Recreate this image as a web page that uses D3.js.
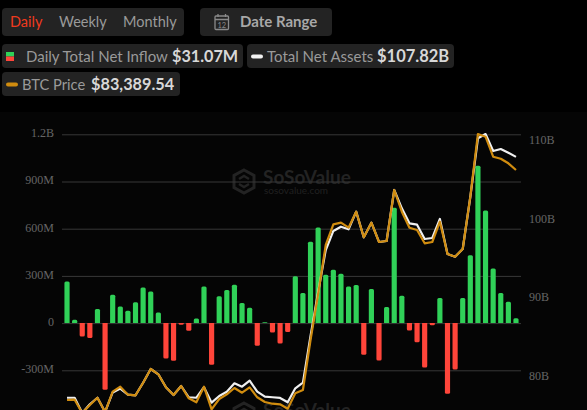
<!DOCTYPE html>
<html><head><meta charset="utf-8">
<script src="https://cdn.jsdelivr.net/npm/d3@7/dist/d3.min.js"></script>
<style>
html,body{margin:0;padding:0;background:#000;overflow:hidden}
svg{display:block}
</style></head><body>
<svg id="c" width="587" height="410"></svg>
<script>
const inflow=[265,21,-85,-95,89,-424,180,106,78,133,227,201,68,-225,-239,-11,-49,30,233,-265,170,210,244,127,97,-144,6,-59,-129,-57,297,191,517,608,307,339,314,233,242,-201,216,-237,102,733,174,-47,-121,-282,-13,159,-449,-295,159,432,1000,716,347,191,136,31.07];
const assets=[77.2,77.2,75.26,76.37,77.2,75.39,77.87,78.37,77.59,77.51,79.11,80.85,80.18,78.53,77.55,78.69,77.26,77.2,78.53,76.57,77.42,77.97,79.04,78.6,79.37,77.97,77.33,77.26,77.17,76.62,78.4,79.11,85.05,90.64,95.98,98.4,98.94,98.61,100.85,97.59,99.45,97,97.12,103.61,101.28,99.37,99.2,97.38,97.5,99.92,95.47,95.13,96.11,102.72,110.18,110.72,108.56,108.82,108.35,107.82];
const price=[54640,54676,53014,54014,54927,53139,55677,56302,55302,55227,56802,58514,57852,56227,55264,56389,54852,54352,56302,53477,54764,55352,56139,55552,56227,54977,54389,54177,54102,53552,55477,55889,62139,67889,74014,76602,76802,76177,78177,74977,76802,74389,74514,80889,78177,76177,75889,74227,74389,76927,72889,72552,73514,80052,87889,87551,85051,84801,84226,83389.54];
const leftTicks=[-300,0,300,600,900,1200];
const leftLabels=["-300M","0","300M","600M","900M","1.2B"];
const rightTicks=[80,90,100,110];
const rightLabels=["80B","90B","100B","110B"];
const periods=["Daily","Weekly","Monthly"];

const svg=d3.select("#c");
const sans="Lato,'Open Sans',sans-serif", serif="'Liberation Serif',serif";
const X0=62,X1=521;
const x=d3.scaleBand().domain(d3.range(inflow.length)).range([X0,X1]).padding(0.32);
const yL=d3.scaleLinear().domain([-300,1200]).range([370.3,134.3]);
const yR=d3.scaleLinear().domain([80,110]).range([375.7,139.7]);
const yP=d3.scaleLinear().domain([57764.54,83389.54]).range([375,170]);
const cx=i=>x(i)+x.bandwidth()/2;

svg.append("rect").attr("y",112).attr("width",587).attr("height",298).attr("fill","#050505");

// header controls
function chip(a,b,w,h){svg.append("rect").attr("x",a).attr("y",b).attr("width",w).attr("height",h).attr("rx",4).attr("fill","#232323");}
function txt(s,a,b,size,col,weight){return svg.append("text").attr("x",a).attr("y",b).attr("font-family",sans).attr("font-size",size).attr("font-weight",weight||400).attr("fill",col).text(s);}
chip(2,8,182,28);chip(200,8,132,28);
const px=[10,59,123];
periods.forEach((p,i)=>txt(p,px[i],27,14.5,i==0?"#f03a1e":"#9a9a9a"));
// calendar icon
const ic=svg.append("g").attr("fill","none").attr("stroke","#8a8a8a").attr("stroke-width",1.3);
ic.append("rect").attr("x",215).attr("y",16).attr("width",13.5).attr("height",13.5).attr("rx",1);
ic.append("path").attr("d","M215 19.5H228.5M218 14V17M225.5 14V17");
svg.append("text").attr("x",221.8).attr("y",28).attr("text-anchor","middle").attr("font-family",sans).attr("font-size",7.5).attr("fill","#8a8a8a").text("12");
txt("Date Range",240,27,15,"#a8a8a8",700);

chip(2,44,241,24);chip(247,44,207,24);chip(2,72,178,24);
svg.append("rect").attr("x",6).attr("y",52).attr("width",8).attr("height",4.5).attr("fill","#30d158");
svg.append("rect").attr("x",6).attr("y",56.5).attr("width",8).attr("height",4.5).attr("fill","#ff453a");
txt("Daily Total Net Inflow",26,61.5,15,"#9a9a9a");
txt("$31.07M",172,62,16.2,"#d8d8d8",700);
svg.append("rect").attr("x",251).attr("y",54.5).attr("width",12).attr("height",4).attr("rx",2).attr("fill","#f2f2f2");
txt("Total Net Assets",267,61.5,15,"#9a9a9a");
txt("$107.82B",377,62,16.5,"#d8d8d8",700);
svg.append("rect").attr("x",6).attr("y",82.5).attr("width",12).attr("height",4).attr("rx",2).attr("fill","#d08c0f");
txt("BTC Price",22,89.5,14.7,"#9a9a9a");
txt("$83,389.54",91,90,16.3,"#d8d8d8",700);

// watermarks
function watermark(dy){
  const g=svg.append("g").attr("transform",`translate(0,${dy})`);
  g.append("path").attr("d","M244 170L254 175.5V187.5L244 193L234 187.5V175.5Z").attr("fill","none").attr("stroke","#232323").attr("stroke-width",3);
  g.append("path").attr("d","M239 179L244 176L249 179M249 184L244 187L239 184").attr("fill","none").attr("stroke","#232323").attr("stroke-width",2.5);
  g.append("text").attr("x",263).attr("y",184).attr("font-family",sans).attr("font-weight",700).attr("font-size",19).attr("fill","#232323").text("SoSoValue");
  g.append("text").attr("x",264).attr("y",194).attr("font-family",sans).attr("font-size",10).attr("fill","#202020").text("sosovalue.com");
}
watermark(0);watermark(233);

// axes
const axL=svg.append("g").attr("transform",`translate(${X0},0)`)
 .call(d3.axisLeft(yL).tickValues(leftTicks).tickSize(-(X1-X0)).tickPadding(8).tickFormat((d,i)=>leftLabels[i]));
axL.select(".domain").remove();
axL.selectAll("line").attr("stroke","#383838");
axL.selectAll("text").attr("font-family",serif).attr("font-size",12).attr("fill","#666").attr("dy","0.2em");
const axR=svg.append("g").attr("transform",`translate(${X1},0)`)
 .call(d3.axisRight(yR).tickValues(rightTicks).tickSize(0).tickPadding(8).tickFormat((d,i)=>rightLabels[i]));
axR.select(".domain").remove();
axR.selectAll("text").attr("font-family",serif).attr("font-size",12).attr("fill","#666");

// bars
svg.append("g").selectAll("path").data(inflow).join("path")
 .attr("d",(d,i)=>{
   const a=x(i),w=x.bandwidth(),y0=yL(0),y1=yL(d),r=Math.min(1.5,Math.abs(y1-y0)),s=d>=0?1:-1;
   return `M${a} ${y0}V${y1+s*r}Q${a} ${y1} ${a+r} ${y1}H${a+w-r}Q${a+w} ${y1} ${a+w} ${y1+s*r}V${y0}Z`;
 })
 .attr("fill",d=>d>=0?"#30d158":"#ff453a");

// lines
const lineR=d3.line().x((d,i)=>cx(i)).y(d=>yR(d));
const lineP=d3.line().x((d,i)=>cx(i)).y(d=>yP(d));
svg.append("path").attr("d",lineR(assets)).attr("fill","none").attr("stroke","#f0f0f0").attr("stroke-width",2.2).attr("stroke-linejoin","round");
svg.append("path").attr("d",lineP(price)).attr("fill","none").attr("stroke","#d08c0f").attr("stroke-width",2.2).attr("stroke-linejoin","round");
</script>
</body></html>
